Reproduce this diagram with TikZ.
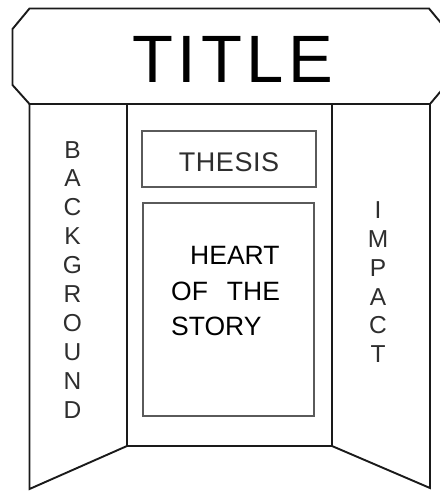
\documentclass[tikz,border=0pt]{standalone}
\usepackage{fontspec}
\setmainfont{Liberation Sans}
\newfontfamily\titlefont[LetterSpace=7]{Liberation Sans}
\newfontfamily\thesisfont[LetterSpace=2]{Liberation Sans}
\definecolor{edgecol}{HTML}{1A1A1A}
\definecolor{boxcol}{HTML}{5A5A5A}
\definecolor{txtgray}{HTML}{2E2E2E}
\tikzset{
  board/.style={draw=edgecol,line width=1.9pt,line join=miter},
  innerbox/.style={draw=boxcol,line width=1.1pt},
  vletter/.style={anchor=base,inner sep=0pt,text=txtgray,font=\fontsize{24.5}{24.5}\selectfont},
  heartline/.style={anchor=base west,inner sep=0pt,text=black,font=\fontsize{26.5}{26.5}\selectfont}
}
\begin{document}
\begin{tikzpicture}[x=1pt,y=-1pt]
\useasboundingbox (0,0) rectangle (440,491);
\fill[white] (0,0) rectangle (440,491);
\clip (0,0) rectangle (440,491);
% banner
\draw[board] (29.5,8.5) -- (429,8.5) -- (446,29) -- (446,85) -- (430,104)
  -- (29.5,104) -- (12.5,85) -- (12.5,29) -- cycle;
% panels
\draw[board] (29.5,104) -- (29.5,489) -- (127,446) -- (127,104);
\draw[board] (430,104) -- (430,488) -- (332,446) -- (332,104);
\draw[board] (127,446) -- (332,446);
% inner boxes
\draw[innerbox] (142,131) rectangle (316,187);
\draw[innerbox] (143,203) rectangle (314,416);
% texts
\node[anchor=base,inner sep=0pt,font=\titlefont\fontsize{67}{67}\selectfont] (title) at (233,82) {TITLE};
\node[anchor=base,inner sep=0pt,text=txtgray,font=\thesisfont\fontsize{27}{27}\selectfont] (thesis) at (229,171) {THESIS};
\node[heartline] (heart1) at (190,264) {HEART};
\node[heartline] (heart2) at (171,300) {OF\hspace{19pt}THE};
\node[heartline] (heart3) at (171,335) {STORY};
\foreach \ch [count=\i from 0] in {B,A,C,K,G,R,O,U,N,D}
  \node[vletter] (bg\i) at (72.5,158+28.9*\i) {\ch};
\foreach \ch [count=\i from 0] in {I,M,P,A,C,T}
  \node[vletter] (im\i) at (378,218.3+28.9*\i) {\ch};
\end{tikzpicture}
\end{document}
